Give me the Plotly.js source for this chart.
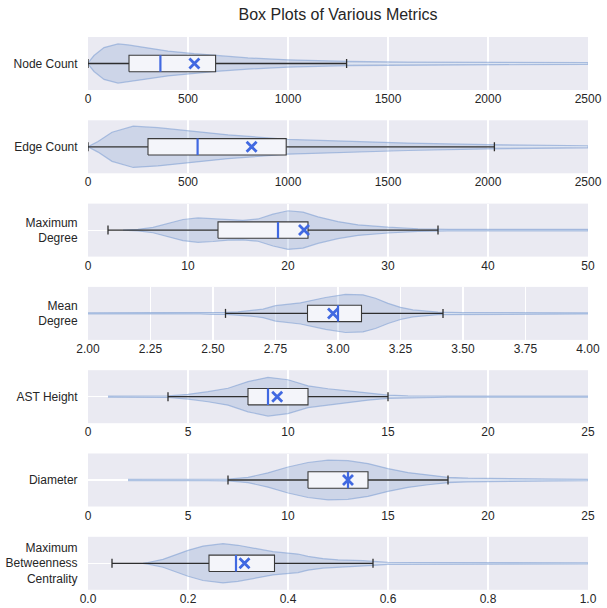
<!DOCTYPE html>
<html>
<head>
<meta charset="utf-8">
<script src="https://cdn.plot.ly/plotly-3.0.1.min.js"></script>
<style>html,body{margin:0;padding:0;background:#fff;}#chart{width:607px;height:608px;}</style>
</head>
<body>
<div id="chart"></div>
<script>
// ---------- data ----------
const metricLabels = ['Node Count', 'Edge Count', 'Maximum<br>Degree', 'Mean<br>Degree', 'AST Height', 'Diameter', 'Maximum<br>Betweenness<br>Centrality'];

const lowerWhisker = [0, 0, 2, 2.55, 4, 7, 0.048];
const q1Vals       = [205, 300, 13, 2.878, 8, 11, 0.242];
const medianVals   = [362, 548, 19, 3.00, 9, 13, 0.296];
const q3Vals       = [638, 991, 22, 3.094, 11, 14, 0.373];
const upperWhisker = [1293, 2032, 35, 3.42, 15, 18, 0.570];
const meanVals     = [532, 818, 21.6, 2.98, 9.46, 13.0, 0.313];

const axisMin  = [0, 0, 0, 2, 0, 0, 0];
const axisMax  = [2500, 2500, 50, 4, 25, 25, 1];
const tickStep = [500, 500, 10, 0.25, 5, 5, 0.2];
const tickFmt  = ['d', 'd', 'd', '.2f', 'd', 'd', '.1f'];

// violin outlines: value positions and half-widths (in panel units)
const nodeViolinX = [0, 30, 80, 150, 200, 280, 400, 530, 640, 800, 1000, 1300, 1600, 2000, 2500];
const nodeViolinW = [0.02, 0.3, 0.6, 0.74, 0.7, 0.6, 0.47, 0.37, 0.3, 0.21, 0.14, 0.08, 0.05, 0.04, 0.03];

const edgeViolinX = [0, 50, 120, 226, 350, 500, 700, 1000, 1300, 1600, 2000, 2300, 2500];
const edgeViolinW = [0.0, 0.2, 0.55, 0.78, 0.72, 0.6, 0.45, 0.28, 0.2, 0.14, 0.08, 0.05, 0.04];

const maxDegViolinX = [3.5, 5, 6.5, 8, 9.5, 11, 12.5, 14, 15.5, 17, 18.5, 20, 21.5, 23, 25, 27, 30, 33, 36, 50];
const maxDegViolinW = [0.0, 0.03, 0.1, 0.25, 0.4, 0.46, 0.43, 0.38, 0.37, 0.42, 0.6, 0.73, 0.68, 0.5, 0.32, 0.2, 0.11, 0.05, 0.03, 0.03];

const meanDegViolinX = [2.0, 2.45, 2.5, 2.55, 2.6, 2.65, 2.7, 2.75, 2.85, 2.95, 3.03, 3.1, 3.15, 3.2, 3.25, 3.3, 3.4, 3.5, 4.0];
const meanDegViolinW = [0.02, 0.02, 0.04, 0.04, 0.06, 0.1, 0.16, 0.29, 0.4, 0.6, 0.72, 0.7, 0.57, 0.38, 0.23, 0.13, 0.05, 0.03, 0.02];

const astViolinX = [1, 4, 5, 6, 7, 8, 9, 10, 11, 12, 13, 14, 15, 16, 18, 25];
const astViolinW = [0.02, 0.03, 0.09, 0.19, 0.32, 0.57, 0.73, 0.64, 0.41, 0.3, 0.22, 0.13, 0.06, 0.03, 0.02, 0.02];

const diamViolinX = [2, 6, 7, 8, 9, 10, 11, 12, 13, 14, 15, 16, 17, 18, 19, 20, 21, 22, 25];
const diamViolinW = [0.02, 0.02, 0.03, 0.1, 0.27, 0.49, 0.66, 0.75, 0.73, 0.62, 0.43, 0.28, 0.18, 0.1, 0.07, 0.06, 0.05, 0.03, 0.02];

const mbcViolinX = [0.11, 0.12, 0.15, 0.18, 0.2, 0.23, 0.27, 0.3, 0.33, 0.37, 0.42, 0.44, 0.47, 0.5, 0.55, 0.57, 0.6, 0.65, 1.0];
const mbcViolinW = [0.0, 0.03, 0.15, 0.35, 0.49, 0.65, 0.74, 0.68, 0.58, 0.44, 0.35, 0.26, 0.18, 0.13, 0.1, 0.08, 0.04, 0.03, 0.02];

const violinXs = [nodeViolinX, edgeViolinX, maxDegViolinX, meanDegViolinX, astViolinX, diamViolinX, mbcViolinX];
const violinWs = [nodeViolinW, edgeViolinW, maxDegViolinW, meanDegViolinW, astViolinW, diamViolinW, mbcViolinW];

// ---------- styles ----------
const BOX_HALF = 0.31;
const CAP_HALF = 0.17;
const FONT = 'Liberation Sans, Arial, sans-serif';
const TXT = '#262626';
const BLUE = '#4169E1';
const EDGE = '#2e2e2e';

const traces = [];
const layout = {
  width: 607, height: 608,
  margin: {l: 88, r: 19, t: 37, b: 18},
  paper_bgcolor: '#ffffff',
  plot_bgcolor: '#EAEAF2',
  showlegend: false,
  font: {family: FONT, size: 12, color: TXT},
  title: {text: 'Box Plots of Various Metrics', x: 0.5, xref: 'paper', y: 0.977, yanchor: 'middle',
          font: {family: FONT, size: 16, color: TXT}}
};

const plotTop = 37, plotBottom = 590, H = plotBottom - plotTop, panelH = 53, pitch = 83.3;

for (let i = 0; i < 7; i++) {
  const xa = i === 0 ? 'x' : 'x' + (i + 1);
  const ya = i === 0 ? 'y' : 'y' + (i + 1);
  const xs = violinXs[i], ws = violinWs[i];
  const vx = xs.concat(xs.slice().reverse());
  const vy = ws.concat(ws.slice().reverse().map(v => -v));
  // violin
  traces.push({
    type: 'scatter', mode: 'lines', x: vx, y: vy, xaxis: xa, yaxis: ya,
    fill: 'toself', fillcolor: 'rgba(90,130,195,0.2)',
    line: {color: 'rgba(120,155,210,0.55)', width: 1.2}, hoverinfo: 'skip'
  });
  const lo = lowerWhisker[i], q1 = q1Vals[i], q3 = q3Vals[i], hi = upperWhisker[i];
  // whiskers and caps
  traces.push({
    type: 'scatter', mode: 'lines', xaxis: xa, yaxis: ya,
    x: [lo, q1, null, q3, hi, null, lo, lo, null, hi, hi],
    y: [0, 0, null, 0, 0, null, -CAP_HALF, CAP_HALF, null, -CAP_HALF, CAP_HALF],
    line: {color: EDGE, width: 1.3}, hoverinfo: 'skip'
  });
  // box
  traces.push({
    type: 'scatter', mode: 'lines', xaxis: xa, yaxis: ya,
    x: [q1, q3, q3, q1, q1], y: [-BOX_HALF, -BOX_HALF, BOX_HALF, BOX_HALF, -BOX_HALF],
    fill: 'toself', fillcolor: '#F4F5FA', line: {color: '#3a3a3a', width: 1.1}, hoverinfo: 'skip'
  });
  // median
  traces.push({
    type: 'scatter', mode: 'lines', x: [medianVals[i], medianVals[i]], y: [-BOX_HALF, BOX_HALF],
    xaxis: xa, yaxis: ya, line: {color: BLUE, width: 2.2}, hoverinfo: 'skip'
  });
  // mean
  traces.push({
    type: 'scatter', mode: 'markers', x: [meanVals[i]], y: [0], xaxis: xa, yaxis: ya,
    marker: {symbol: 'x-thin', size: 10, color: BLUE, line: {color: BLUE, width: 2.8}},
    hoverinfo: 'skip'
  });

  const topPx = plotTop + i * pitch;
  const botPx = topPx + panelH;
  const xkey = i === 0 ? 'xaxis' : 'xaxis' + (i + 1);
  const ykey = i === 0 ? 'yaxis' : 'yaxis' + (i + 1);
  layout[xkey] = {
    anchor: ya, range: [axisMin[i], axisMax[i]], dtick: tickStep[i], tick0: axisMin[i],
    tickformat: tickFmt[i], showgrid: true, gridcolor: '#ffffff', gridwidth: 1.1,
    zeroline: false, showline: false, ticks: '', tickfont: {family: FONT, size: 12, color: TXT},
    fixedrange: true
  };
  layout[ykey] = {
    anchor: xa, domain: [(plotBottom - botPx) / H, (plotBottom - topPx) / H],
    range: [-1, 1], tickvals: [0], ticktext: [metricLabels[i]],
    showgrid: true, gridcolor: '#ffffff', gridwidth: 1.1, zeroline: false, showline: false,
    ticks: 'outside', ticklen: 7, tickcolor: 'rgba(0,0,0,0)',
    tickfont: {family: FONT, size: 12, color: TXT}, fixedrange: true
  };
}

Plotly.newPlot('chart', traces, layout, {displayModeBar: false, staticPlot: true});
</script>
</body>
</html>
